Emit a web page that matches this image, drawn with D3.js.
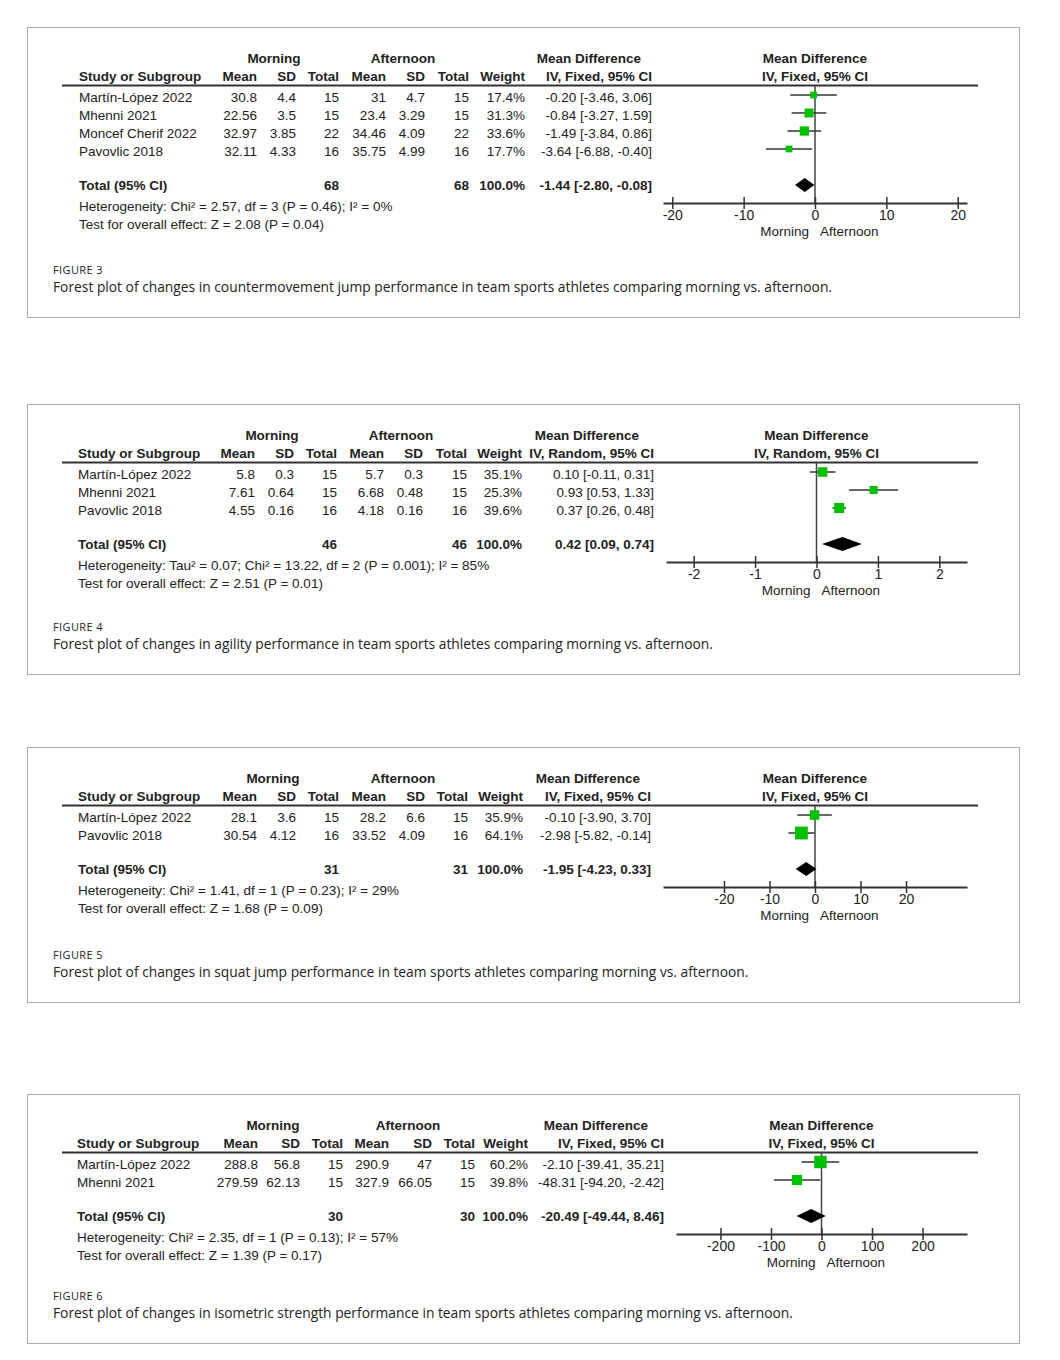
<!DOCTYPE html>
<html>
<head>
<meta charset="utf-8">
<script src="https://cdn.jsdelivr.net/npm/d3@7"></script>
<style>
body { margin: 0; background: #fff; }
text { font-family: "Liberation Sans", Arial, sans-serif; fill: #222; }
.cap { font-family: "Open Sans", "Noto Sans", sans-serif; }
</style>
</head>
<body>
<div id="chart"></div>
<script>
// ---- Figure 3: countermovement jump
var cmjStudies = ['Martín-López 2022', 'Mhenni 2021', 'Moncef Cherif 2022', 'Pavovlic 2018'];
var cmjMorning = [[30.8, 4.4, 15], [22.56, 3.5, 15], [32.97, 3.85, 22], [32.11, 4.33, 16]];   // mean, sd, total
var cmjAfternoon = [[31, 4.7, 15], [23.4, 3.29, 15], [34.46, 4.09, 22], [35.75, 4.99, 16]];
var cmjWeight = [17.4, 31.3, 33.6, 17.7];
var cmjEffect = [[-0.20, -3.46, 3.06], [-0.84, -3.27, 1.59], [-1.49, -3.84, 0.86], [-3.64, -6.88, -0.40]];
var cmjTotalN = [68, 68];
var cmjPooled = [-1.44, -2.80, -0.08];
var cmjTicks = [-20, -10, 0, 10, 20];

// ---- Figure 4: agility
var agiStudies = ['Martín-López 2022', 'Mhenni 2021', 'Pavovlic 2018'];
var agiMorning = [[5.8, 0.3, 15], [7.61, 0.64, 15], [4.55, 0.16, 16]];
var agiAfternoon = [[5.7, 0.3, 15], [6.68, 0.48, 15], [4.18, 0.16, 16]];
var agiWeight = [35.1, 25.3, 39.6];
var agiEffect = [[0.10, -0.11, 0.31], [0.93, 0.53, 1.33], [0.37, 0.26, 0.48]];
var agiTotalN = [46, 46];
var agiPooled = [0.42, 0.09, 0.74];
var agiTicks = [-2, -1, 0, 1, 2];

// ---- Figure 5: squat jump
var sjStudies = ['Martín-López 2022', 'Pavovlic 2018'];
var sjMorning = [[28.1, 3.6, 15], [30.54, 4.12, 16]];
var sjAfternoon = [[28.2, 6.6, 15], [33.52, 4.09, 16]];
var sjWeight = [35.9, 64.1];
var sjEffect = [[-0.10, -3.90, 3.70], [-2.98, -5.82, -0.14]];
var sjTotalN = [31, 31];
var sjPooled = [-1.95, -4.23, 0.33];
var sjTicks = [-20, -10, 0, 10, 20];

// ---- Figure 6: isometric strength
var isoStudies = ['Martín-López 2022', 'Mhenni 2021'];
var isoMorning = [[288.8, 56.8, 15], [279.59, 62.13, 15]];
var isoAfternoon = [[290.9, 47, 15], [327.9, 66.05, 15]];
var isoWeight = [60.2, 39.8];
var isoEffect = [[-2.10, -39.41, 35.21], [-48.31, -94.20, -2.42]];
var isoTotalN = [30, 30];
var isoPooled = [-20.49, -49.44, 8.46];
var isoTicks = [-200, -100, 0, 100, 200];

var figures = [
  { label: 'FIGURE 3', studies: cmjStudies, morning: cmjMorning, afternoon: cmjAfternoon, weight: cmjWeight,
    effect: cmjEffect, totalN: cmjTotalN, pooled: cmjPooled, ticks: cmjTicks, method: 'IV, Fixed, 95% CI',
    hetero: 'Heterogeneity: Chi² = 2.57, df = 3 (P = 0.46); I² = 0%',
    test: 'Test for overall effect: Z = 2.08 (P = 0.04)',
    caption: 'Forest plot of changes in countermovement jump performance in team sports athletes comparing morning vs. afternoon.' },
  { label: 'FIGURE 4', studies: agiStudies, morning: agiMorning, afternoon: agiAfternoon, weight: agiWeight,
    effect: agiEffect, totalN: agiTotalN, pooled: agiPooled, ticks: agiTicks, method: 'IV, Random, 95% CI',
    hetero: 'Heterogeneity: Tau² = 0.07; Chi² = 13.22, df = 2 (P = 0.001); I² = 85%',
    test: 'Test for overall effect: Z = 2.51 (P = 0.01)',
    caption: 'Forest plot of changes in agility performance in team sports athletes comparing morning vs. afternoon.' },
  { label: 'FIGURE 5', studies: sjStudies, morning: sjMorning, afternoon: sjAfternoon, weight: sjWeight,
    effect: sjEffect, totalN: sjTotalN, pooled: sjPooled, ticks: sjTicks, method: 'IV, Fixed, 95% CI',
    hetero: 'Heterogeneity: Chi² = 1.41, df = 1 (P = 0.23); I² = 29%',
    test: 'Test for overall effect: Z = 1.68 (P = 0.09)',
    caption: 'Forest plot of changes in squat jump performance in team sports athletes comparing morning vs. afternoon.' },
  { label: 'FIGURE 6', studies: isoStudies, morning: isoMorning, afternoon: isoAfternoon, weight: isoWeight,
    effect: isoEffect, totalN: isoTotalN, pooled: isoPooled, ticks: isoTicks, method: 'IV, Fixed, 95% CI',
    hetero: 'Heterogeneity: Chi² = 2.35, df = 1 (P = 0.13); I² = 57%',
    test: 'Test for overall effect: Z = 1.39 (P = 0.17)',
    caption: 'Forest plot of changes in isometric strength performance in team sports athletes comparing morning vs. afternoon.' }
];

// layout for each panel (box, column anchors, axis extent)
var layouts = [
  { top: 27, bottom: 317, cols: [79, 257, 296, 339, 386, 425, 469, 525, 652], heads: [274, 403, 589],
    domain: [-21.3, 21.3], range: [663, 967] },
  { top: 404, bottom: 674, cols: [78, 255, 294, 337, 384, 423, 467, 522, 654], heads: [272, 401, 587],
    domain: [-2.45, 2.45], range: [666, 967] },
  { top: 747, bottom: 1002, cols: [78, 257, 296, 339, 386, 425, 468, 523, 651], heads: [273, 403, 588],
    domain: [-33.4, 33.4], range: [663, 967] },
  { top: 1094, bottom: 1343, cols: [77, 258, 300, 343, 389, 432, 475, 528, 664], heads: [273, 408, 596],
    domain: [-288, 288], range: [676, 967] }
];

var svg = d3.select('#chart').append('svg')
  .attr('width', 1060)
  .attr('height', 1360);

svg.append('rect').attr('width', 1060).attr('height', 1360).attr('fill', '#fff');

var fs = 13.5;
var sizeScale = d3.scaleSqrt().domain([0, 100]).range([0, 16]);

function fmtEffect(e) {
  return e[0].toFixed(2) + ' [' + e[1].toFixed(2) + ', ' + e[2].toFixed(2) + ']';
}

figures.forEach(function(fig, i) {
  var lay = layouts[i];
  var T = lay.top;
  var c = lay.cols;
  var g = svg.append('g');

  // frame
  g.append('rect')
    .attr('x', 27.5).attr('y', T + 0.5)
    .attr('width', 992).attr('height', lay.bottom - T)
    .attr('fill', 'none').attr('stroke', '#aaa');

  var yHead = T + 31, ySub = T + 49, yLine = T + 58.5, yRow0 = T + 70, step = 18;
  var yTotal = yRow0 + (fig.studies.length - 1) * step + 34;
  var yAxis = yTotal + 18;

  function txt(x, y, s, anchor, bold, size) {
    return g.append('text')
      .attr('x', x).attr('y', y + 5)
      .attr('text-anchor', anchor || 'start')
      .attr('font-size', size || fs)
      .attr('font-weight', bold ? 'bold' : 'normal')
      .text(s);
  }

  // group headers
  txt(lay.heads[0], yHead, 'Morning', 'middle', true);
  txt(lay.heads[1], yHead, 'Afternoon', 'middle', true);
  txt(lay.heads[2], yHead, 'Mean Difference', 'middle', true);

  var x = d3.scaleLinear().domain(lay.domain).range(lay.range);
  var x0 = x(0);

  txt(x0, yHead, 'Mean Difference', 'middle', true);
  txt(x0, ySub, fig.method, 'middle', true);

  var subs = ['Study or Subgroup', 'Mean', 'SD', 'Total', 'Mean', 'SD', 'Total', 'Weight', fig.method];
  subs.forEach(function(s, k) {
    txt(c[k], ySub, s, k === 0 ? 'start' : 'end', true);
  });

  g.append('line')
    .attr('x1', 62).attr('x2', 978)
    .attr('y1', yLine).attr('y2', yLine)
    .attr('stroke', '#333').attr('stroke-width', 2);

  // study rows
  fig.studies.forEach(function(s, r) {
    var y = yRow0 + r * step;
    var vals = [s, fig.morning[r][0], fig.morning[r][1], fig.morning[r][2],
      fig.afternoon[r][0], fig.afternoon[r][1], fig.afternoon[r][2],
      fig.weight[r].toFixed(1) + '%', fmtEffect(fig.effect[r])];
    vals.forEach(function(v, k) {
      txt(c[k], y, String(v), k === 0 ? 'start' : 'end', false);
    });
  });

  // totals
  txt(c[0], yTotal, 'Total (95% CI)', 'start', true);
  txt(c[3], yTotal, String(fig.totalN[0]), 'end', true);
  txt(c[6], yTotal, String(fig.totalN[1]), 'end', true);
  txt(c[7], yTotal, '100.0%', 'end', true);
  txt(c[8], yTotal, fmtEffect(fig.pooled), 'end', true);

  txt(c[0], yTotal + 21, fig.hetero, 'start', false);
  txt(c[0], yTotal + 39, fig.test, 'start', false);

  // zero line
  g.append('line')
    .attr('x1', x0).attr('x2', x0)
    .attr('y1', yLine).attr('y2', yAxis)
    .attr('stroke', '#444').attr('stroke-width', 1.5);

  // confidence intervals + weighted squares
  var plot = g.append('g');
  plot.selectAll('line.ci')
    .data(fig.effect)
    .enter()
    .append('line')
    .attr('class', 'ci')
    .attr('x1', function(d) { return x(d[1]); })
    .attr('x2', function(d) { return x(d[2]); })
    .attr('y1', function(d, r) { return yRow0 + r * step - 2; })
    .attr('y2', function(d, r) { return yRow0 + r * step - 2; })
    .attr('stroke', '#333').attr('stroke-width', 1.5);

  plot.selectAll('rect.sq')
    .data(fig.effect)
    .enter()
    .append('rect')
    .attr('class', 'sq')
    .attr('x', function(d, r) { return x(d[0]) - sizeScale(fig.weight[r]) / 2; })
    .attr('y', function(d, r) { return yRow0 + r * step - 2 - sizeScale(fig.weight[r]) / 2; })
    .attr('width', function(d, r) { return sizeScale(fig.weight[r]); })
    .attr('height', function(d, r) { return sizeScale(fig.weight[r]); })
    .attr('fill', '#00c000');

  // pooled diamond
  var p = fig.pooled, yd = yTotal, h = 7;
  plot.append('path')
    .attr('d', 'M' + x(p[1]) + ',' + yd + 'L' + x(p[0]) + ',' + (yd - h) + 'L' + x(p[2]) + ',' + yd +
      'L' + x(p[0]) + ',' + (yd + h) + 'Z')
    .attr('fill', '#000');

  // axis
  var axis = d3.axisBottom(x)
    .tickValues(fig.ticks)
    .tickSizeOuter(0)
    .tickFormat(function(d) { return String(d); });

  var ax = g.append('g')
    .attr('transform', 'translate(0,' + yAxis + ')')
    .call(axis);
  ax.select('.domain').attr('stroke', '#333').attr('stroke-width', 2);
  ax.selectAll('.tick line').attr('y1', -6).attr('y2', 6).attr('stroke', '#333').attr('stroke-width', 1.5);
  ax.selectAll('.tick text').attr('y', 7).attr('font-size', 14).attr('fill', '#222')
    .attr('font-family', '"Liberation Sans", Arial, sans-serif');

  txt(x0 - 6, yAxis + 28, 'Morning', 'end', false).attr('fill', '#444');
  txt(x0 + 5, yAxis + 28, 'Afternoon', 'start', false).attr('fill', '#444');

  // caption
  g.append('text').attr('class', 'cap')
    .attr('x', 53).attr('y', lay.bottom - 43)
    .attr('font-size', 11).attr('letter-spacing', 0.4).attr('fill', '#555')
    .text(fig.label);
  g.append('text').attr('class', 'cap')
    .attr('x', 53).attr('y', lay.bottom - 25)
    .attr('font-size', 13.8).attr('fill', '#4d4d4d')
    .text(fig.caption);
});
</script>
</body>
</html>
